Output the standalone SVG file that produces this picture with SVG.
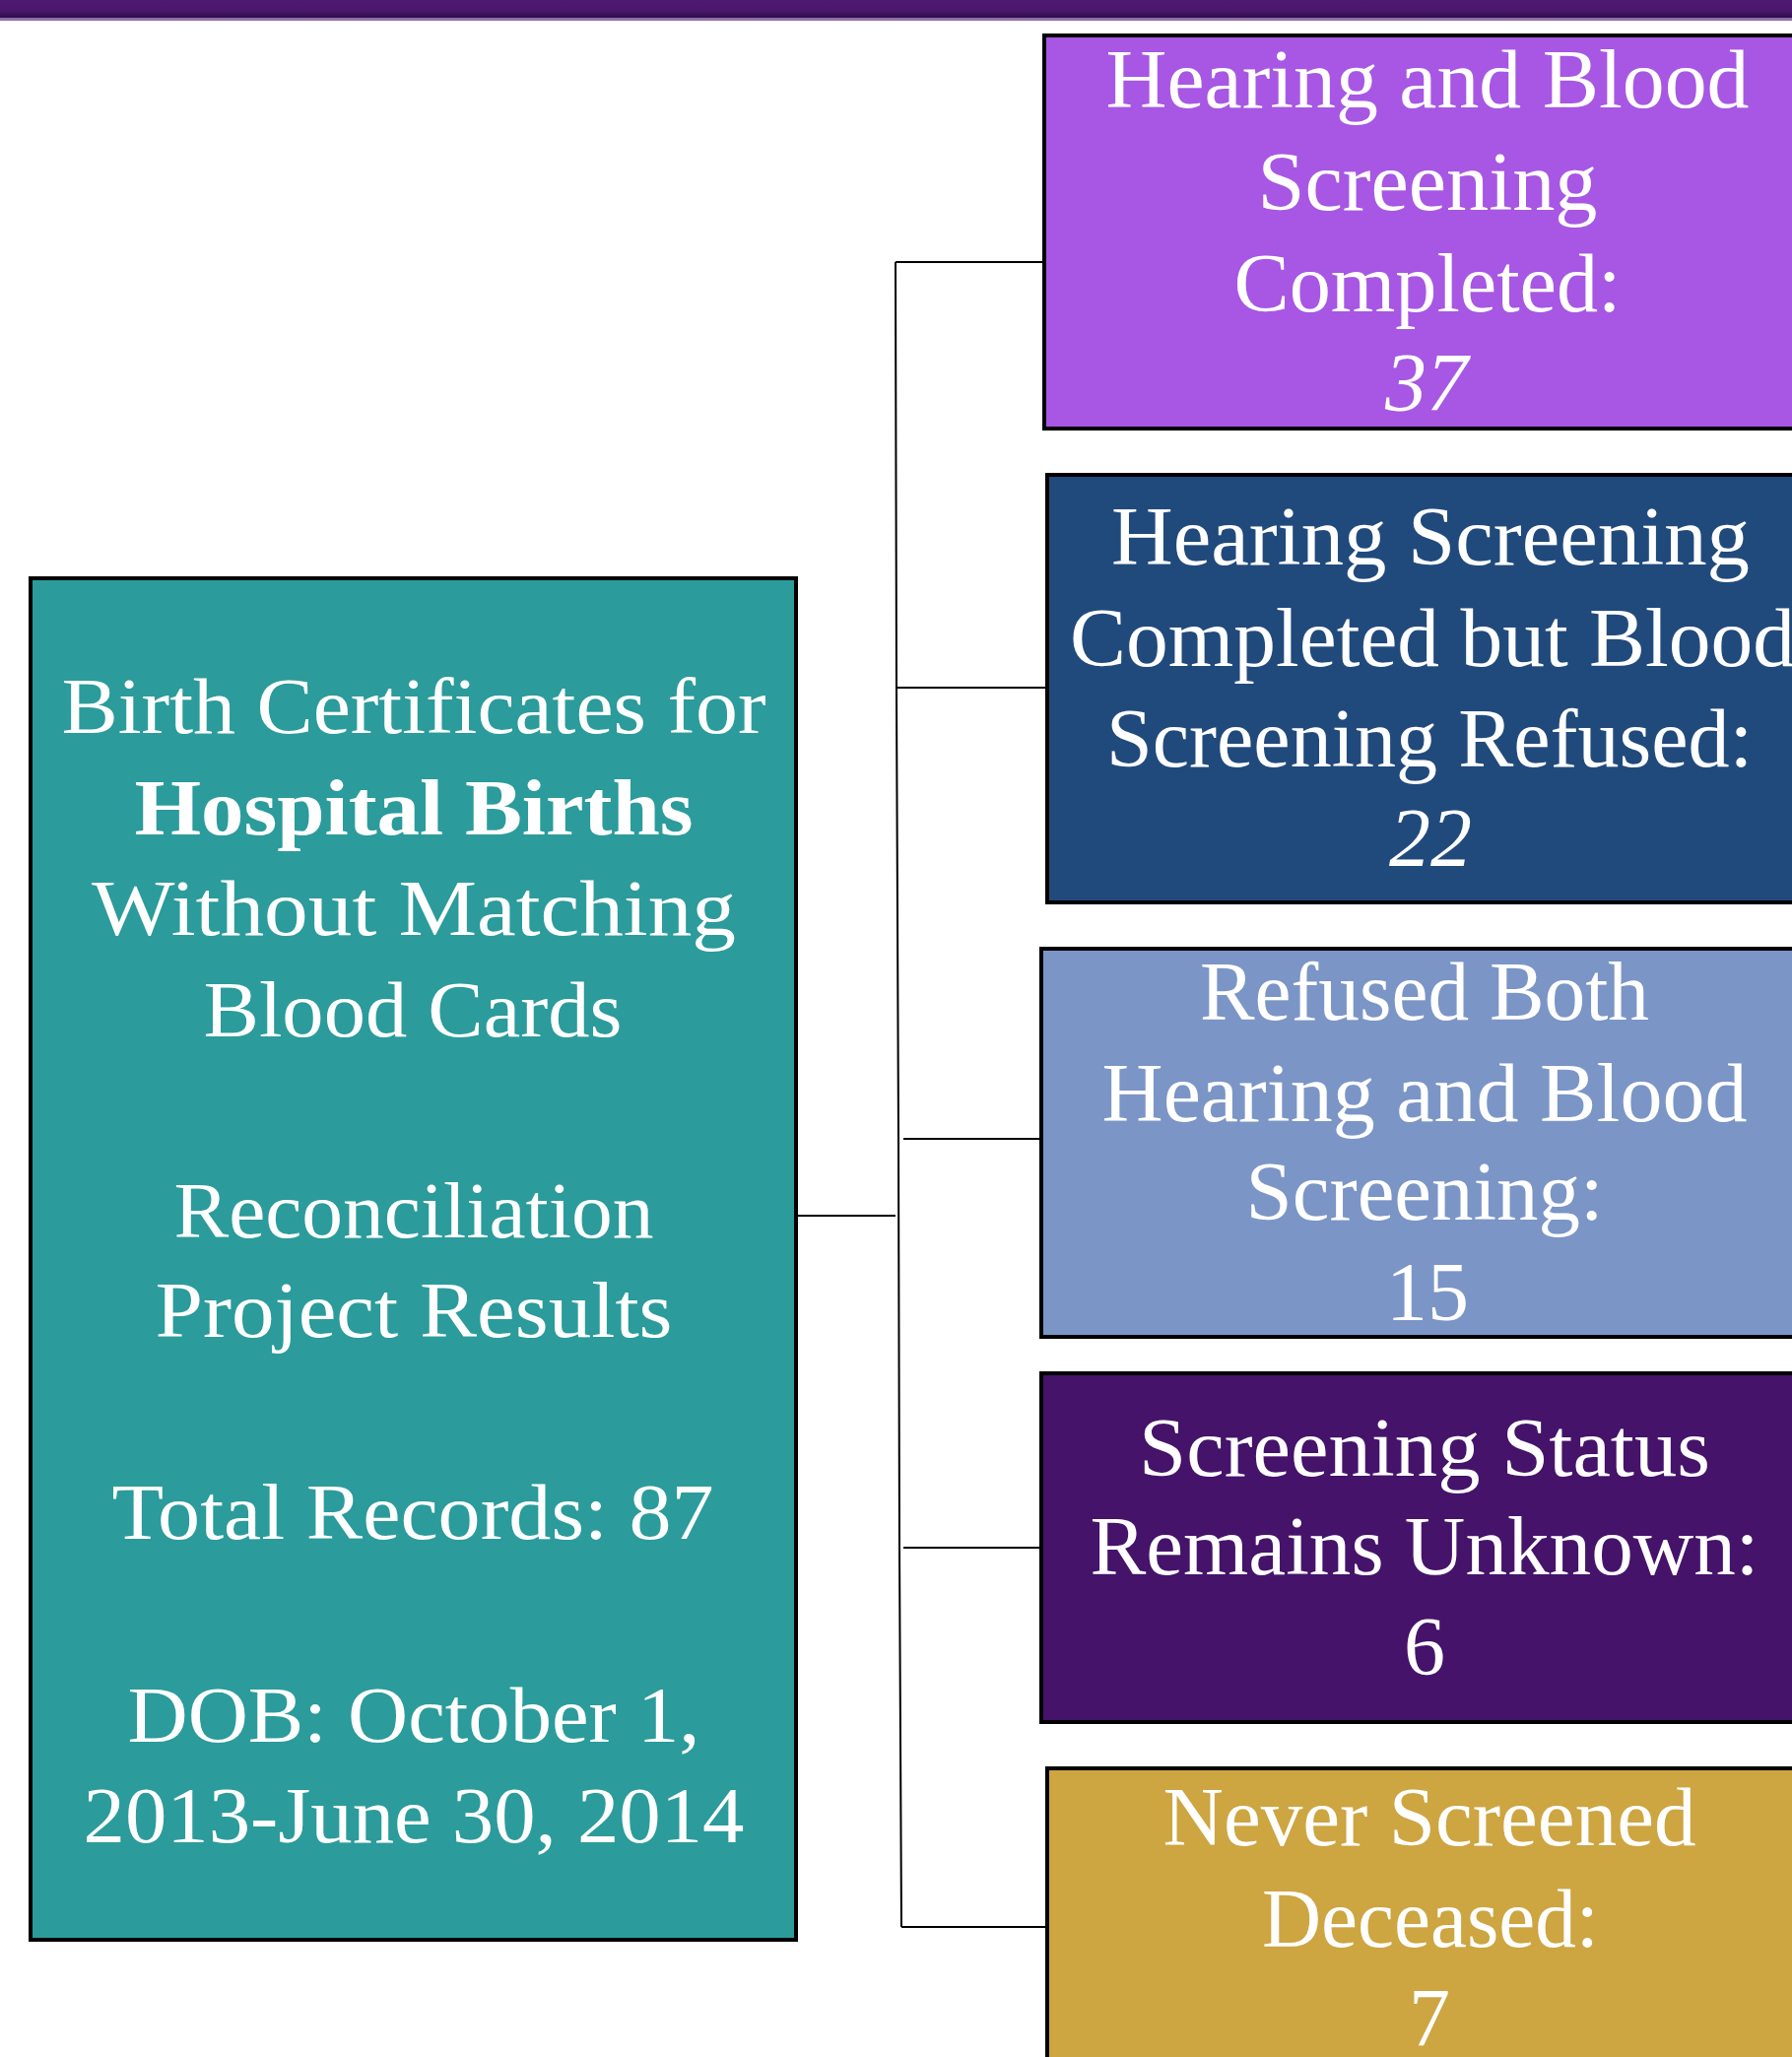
<svg xmlns="http://www.w3.org/2000/svg" width="1819" height="2088" viewBox="0 0 1819 2088">
<defs>
<linearGradient id="hdr" x1="0" y1="0" x2="0" y2="1">
<stop offset="0" stop-color="#4e1a72"/>
<stop offset="0.6" stop-color="#4a176c"/>
<stop offset="1" stop-color="#2e0d48"/>
</linearGradient>
</defs>
<style>
.box{stroke:#000;stroke-width:4}
.t{font-family:"Liberation Serif","DejaVu Serif",serif;fill:#fff;text-anchor:middle;font-size:84px}
.l{font-family:"Liberation Serif","DejaVu Serif",serif;fill:#fff;text-anchor:middle;font-size:80px}
.c{stroke:#000;stroke-width:2;fill:none}
</style>
<rect x="0" y="0" width="1819" height="2088" fill="#fff"/>
<g id="header">
<rect x="0" y="0" width="1819" height="18" fill="url(#hdr)"/>
<rect x="0" y="18" width="1819" height="3" fill="#8f70ac"/>
</g>
<g id="connectors">
<line class="c" x1="808" y1="1234" x2="909" y2="1234"/>
<polyline class="c" points="909,266 910,700 912,1156 913,1571 915,1956"/>
<line class="c" x1="909" y1="266" x2="1060" y2="266"/>
<line class="c" x1="910" y1="698" x2="1063" y2="698"/>
<line class="c" x1="917" y1="1156" x2="1072" y2="1156"/>
<line class="c" x1="917" y1="1571" x2="1072" y2="1571"/>
<line class="c" x1="915" y1="1956" x2="1063" y2="1956"/>
</g>
<g id="root">
<rect class="box" x="31" y="587" width="777" height="1382" fill="#2b9b9b"/>
<text class="l" x="420" y="744" textLength="715" lengthAdjust="spacingAndGlyphs">Birth Certificates for</text>
<text class="l" x="420" y="847" font-weight="bold" textLength="567" lengthAdjust="spacingAndGlyphs">Hospital Births</text>
<text class="l" x="420" y="949" textLength="654" lengthAdjust="spacingAndGlyphs">Without Matching</text>
<text class="l" x="419" y="1052" textLength="425" lengthAdjust="spacingAndGlyphs">Blood Cards</text>
<text class="l" x="420" y="1256" textLength="487" lengthAdjust="spacingAndGlyphs">Reconciliation</text>
<text class="l" x="420" y="1357" textLength="525" lengthAdjust="spacingAndGlyphs">Project Results</text>
<text class="l" x="419" y="1562" textLength="611" lengthAdjust="spacingAndGlyphs">Total Records: 87</text>
<text class="l" x="420" y="1768" textLength="581" lengthAdjust="spacingAndGlyphs">DOB: October 1,</text>
<text class="l" x="420" y="1870" textLength="671" lengthAdjust="spacingAndGlyphs">2013-June 30, 2014</text>
</g>
<g id="node1">
<rect class="box" x="1060" y="36" width="790" height="399" fill="#a757e3"/>
<text class="t" x="1449" y="109" textLength="653" lengthAdjust="spacingAndGlyphs">Hearing and Blood</text>
<text class="t" x="1449" y="213" textLength="345" lengthAdjust="spacingAndGlyphs">Screening</text>
<text class="t" x="1449" y="316" textLength="393" lengthAdjust="spacingAndGlyphs">Completed:</text>
<text class="t" x="1448" y="417" font-style="italic">37</text>
</g>
<g id="node2">
<rect class="box" x="1063" y="482" width="790" height="434" fill="#214a7c"/>
<text class="t" x="1452" y="573" textLength="648" lengthAdjust="spacingAndGlyphs">Hearing Screening</text>
<text class="t" x="1454" y="676" textLength="736" lengthAdjust="spacingAndGlyphs">Completed but Blood</text>
<text class="t" x="1451" y="778" textLength="656" lengthAdjust="spacingAndGlyphs">Screening Refused:</text>
<text class="t" x="1452" y="879" font-style="italic">22</text>
</g>
<g id="node3">
<rect class="box" x="1057" y="963" width="790" height="394" fill="#7b95c6"/>
<text class="t" x="1446" y="1035" textLength="456" lengthAdjust="spacingAndGlyphs">Refused Both</text>
<text class="t" x="1446" y="1138" textLength="655" lengthAdjust="spacingAndGlyphs">Hearing and Blood</text>
<text class="t" x="1446" y="1238" textLength="363" lengthAdjust="spacingAndGlyphs">Screening:</text>
<text class="t" x="1449" y="1340">15</text>
</g>
<g id="node4">
<rect class="box" x="1057" y="1394" width="790" height="354" fill="#45136a"/>
<text class="t" x="1446" y="1498" textLength="580" lengthAdjust="spacingAndGlyphs">Screening Status</text>
<text class="t" x="1446" y="1598" textLength="679" lengthAdjust="spacingAndGlyphs">Remains Unknown:</text>
<text class="t" x="1446" y="1700">6</text>
</g>
<g id="node5">
<rect class="box" x="1063" y="1795" width="790" height="320" fill="#cda541"/>
<text class="t" x="1451" y="1873" textLength="541" lengthAdjust="spacingAndGlyphs">Never Screened</text>
<text class="t" x="1452" y="1976" textLength="342" lengthAdjust="spacingAndGlyphs">Deceased:</text>
<text class="t" x="1451" y="2077">7</text>
</g>
</svg>
